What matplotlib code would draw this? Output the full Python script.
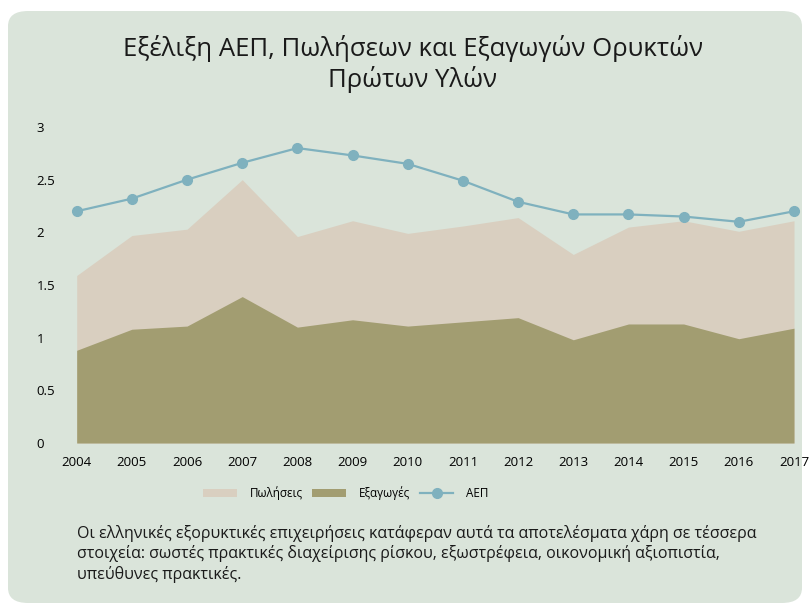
import matplotlib
matplotlib.use("Agg")
import matplotlib.pyplot as plt
from matplotlib.patches import FancyBboxPatch, Patch
from matplotlib.lines import Line2D

plt.rcParams['font.family'] = ['Open Sans', 'DejaVu Sans']

# data
years = [2004, 2005, 2006, 2007, 2008, 2009, 2010, 2011, 2012, 2013, 2014, 2015, 2016, 2017]
sales = [1.59, 1.97, 2.03, 2.50, 1.96, 2.11, 1.99, 2.06, 2.14, 1.79, 2.05, 2.11, 2.01, 2.11]
exports = [0.88, 1.08, 1.11, 1.39, 1.10, 1.17, 1.11, 1.15, 1.19, 0.98, 1.13, 1.13, 0.99, 1.09]
gdp = [2.20, 2.32, 2.50, 2.66, 2.80, 2.73, 2.65, 2.49, 2.29, 2.17, 2.17, 2.15, 2.10, 2.20]
yticks = [0, 0.5, 1, 1.5, 2, 2.5, 3]
ytick_labels = ["0", "0.5", "1", "1.5", "2", "2.5", "3"]

title = "Εξέλιξη ΑΕΠ, Πωλήσεων και Εξαγωγών Ορυκτών\nΠρώτων Υλών"
note = ("Οι ελληνικές εξορυκτικές επιχειρήσεις κατάφεραν αυτά τα αποτελέσματα χάρη σε τέσσερα\n"
        "στοιχεία: σωστές πρακτικές διαχείρισης ρίσκου, εξωστρέφεια, οικονομική αξιοπιστία,\n"
        "υπεύθυνες πρακτικές.")

c_bg = "#dae4da"
c_sales = "#d9cfc0"
c_exp = "#a29d71"
c_gdp = "#7fb1be"

W, H = 810, 603
fig = plt.figure(figsize=(8.1, 6.03), dpi=100)
fig.patch.set_facecolor("white")

# rounded panel behind everything
panel = FancyBboxPatch((8 / W, 0.0), 794 / W, (H - 11) / H,
                       boxstyle="round,pad=0,rounding_size=0.025",
                       transform=fig.transFigure, facecolor=c_bg, edgecolor="none", zorder=-10)
fig.patches.append(panel)

ax = fig.add_axes([76.7 / W, 1 - 443 / H, (794 - 76.7) / W, (443 - 127) / H])
ax.set_facecolor("none")

ax.fill_between(years, 0, sales, color=c_sales, linewidth=0)
ax.fill_between(years, 0, exports, color=c_exp, linewidth=0)
ax.plot(years, gdp, color=c_gdp, linewidth=1.6, marker="o", markersize=7, clip_on=False)

ax.set_xlim(years[0], years[-1])
ax.set_ylim(0, 3)
ax.set_xticks(years)
ax.set_xticklabels([str(y) for y in years], fontsize=9.5)
ax.set_yticks(yticks)
ax.set_yticklabels(ytick_labels, fontsize=9.5)
for lab in ax.get_yticklabels():
    lab.set_horizontalalignment("left")
ax.tick_params(axis="y", length=0, pad=29)
ax.tick_params(axis="x", length=0, pad=9)
for s in ax.spines.values():
    s.set_visible(False)

fig.text(413 / W, 1 - 64 / H, title, ha="center", va="center", fontsize=18.5,
         linespacing=1.22, color="#1a1a1a")

handles = [Patch(facecolor=c_sales, edgecolor="none", label="Πωλήσεις"),
           Patch(facecolor=c_exp, edgecolor="none", label="Εξαγωγές"),
           Line2D([], [], color=c_gdp, linewidth=1.6, marker="o", markersize=7, label="ΑΕΠ")]
fig.legend(handles=handles, loc="center", bbox_to_anchor=(346 / W, 1 - 493 / H), ncol=3,
           frameon=False, fontsize=8.4, handlelength=2.9, handletextpad=1.1,
           columnspacing=0.8)

fig.text(77 / W, 1 - 554 / H, note, ha="left", va="center", fontsize=11.5,
         linespacing=1.28, color="#1a1a1a")

fig.savefig("out.png", dpi=100, facecolor=fig.get_facecolor())
